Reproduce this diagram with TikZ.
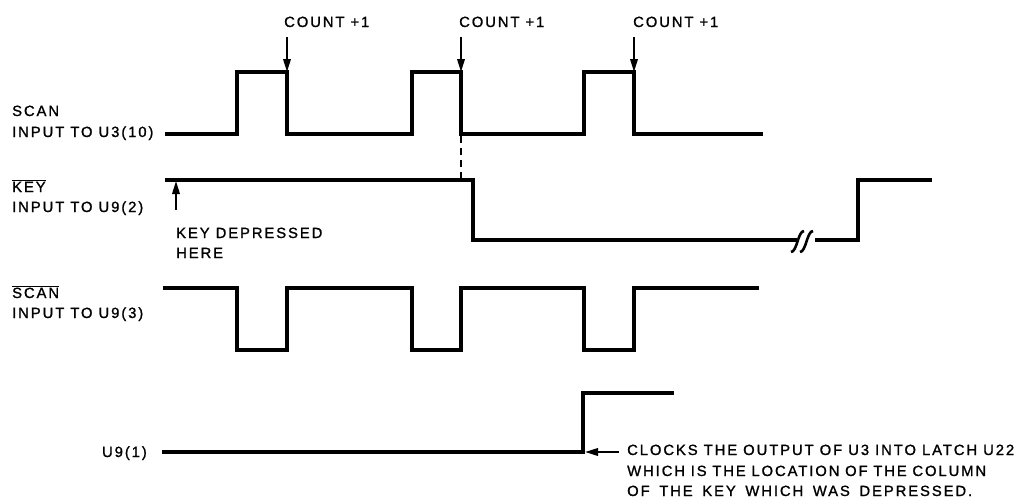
\documentclass[tikz,border=0pt]{standalone}
\usepackage{fontspec}
\setmainfont{Liberation Sans}[LetterSpace=13,FakeBold=1.2]
\usetikzlibrary{arrows.meta}
\begin{document}
\begin{tikzpicture}[x=1pt,y=-1pt,
  wave/.style={line width=3.2pt},
  lbl/.style={anchor=base west, inner sep=0pt, font=\fontsize{14.8}{20.5}\selectfont},
  rlbl/.style={anchor=base east, inner sep=0pt, font=\fontsize{14.8}{20.5}\selectfont},
  ptr/.style={line width=2pt, -{Triangle[length=13pt,width=7.5pt]}}]
\useasboundingbox (0,0) rectangle (1021,498);

% SCAN input to U3(10)
\draw[wave] (165,134) -- (237,134) -- (237,72) -- (287,72) -- (287,134) -- (412,134) -- (412,72) -- (461,72) -- (461,134) -- (584,134) -- (584,72) -- (634,72) -- (634,134) -- (763,134);
% KEY
\draw[wave] (165,180) -- (473,180) -- (473,240) -- (797,240);
\draw[wave] (815,240) -- (858,240) -- (858,180) -- (932,180);
\draw[line width=2.6pt] (791,252) .. controls (797,252) and (798,231) .. (804,231);
\draw[line width=2.6pt] (800,252) .. controls (806,252) and (807,231) .. (813,231);
% SCAN bar
\draw[wave] (163,288) -- (237,288) -- (237,350) -- (287,350) -- (287,288) -- (412,288) -- (412,350) -- (461,350) -- (461,288) -- (584,288) -- (584,350) -- (634,350) -- (634,288) -- (759,288);
% U9(1)
\draw[wave] (162,452) -- (583,452) -- (583,393) -- (674,393);
% dashed
\draw[line width=1.8pt, dash pattern=on 7pt off 5pt] (461,136) -- (461,180);

% labels
\node[lbl] (scan1) at (12,116) {SCAN};
\node[lbl] (scan2) at (12,137) {INPUT TO U3(10)};
\node[lbl] (key1) at (12,192) {$\overline{\mbox{KEY}}$};
\node[lbl] (key2) at (12,212) {INPUT TO U9(2)};
\node[lbl] (kd1) at (176,238) {KEY DEPRESSED};
\node[lbl] (kd2) at (176,258) {HERE};
\node[lbl] (sb1) at (12,298) {$\overline{\mbox{SCAN}}$};
\node[lbl] (sb2) at (12,318) {INPUT TO U9(3)};
\node[rlbl] (u91) at (147,457) {U9(1)};
\node[lbl] (cl1) at (627,455) {\makebox[387pt][s]{CLOCKS THE OUTPUT OF U3 INTO LATCH U22}};
\node[lbl] (cl2) at (627,476) {\makebox[359pt][s]{WHICH IS THE LOCATION OF THE COLUMN}};
\node[lbl] (cl3) at (627,496) {\makebox[345pt][s]{OF THE KEY WHICH WAS DEPRESSED.}};
\node[lbl] (cn1) at (284,27) {COUNT +1};
\node[lbl] (cn2) at (459,27) {COUNT +1};
\node[lbl] (cn3) at (633,27) {COUNT +1};

% arrows
\coordinate (a1t) at (287,37); \coordinate (a1h) at (287,72);
\coordinate (a2t) at (461,37); \coordinate (a2h) at (461,72);
\coordinate (a3t) at (634,37); \coordinate (a3h) at (634,72);
\coordinate (kdt) at (176,210); \coordinate (kdh) at (176,181);
\coordinate (clt) at (619,452); \coordinate (clh) at (585,452);
\draw[ptr] (a1t) -- (a1h);
\draw[ptr] (a2t) -- (a2h);
\draw[ptr] (a3t) -- (a3h);
\draw[ptr] (kdt) -- (kdh);
\draw[ptr] (clt) -- (clh);
\end{tikzpicture}
\end{document}
